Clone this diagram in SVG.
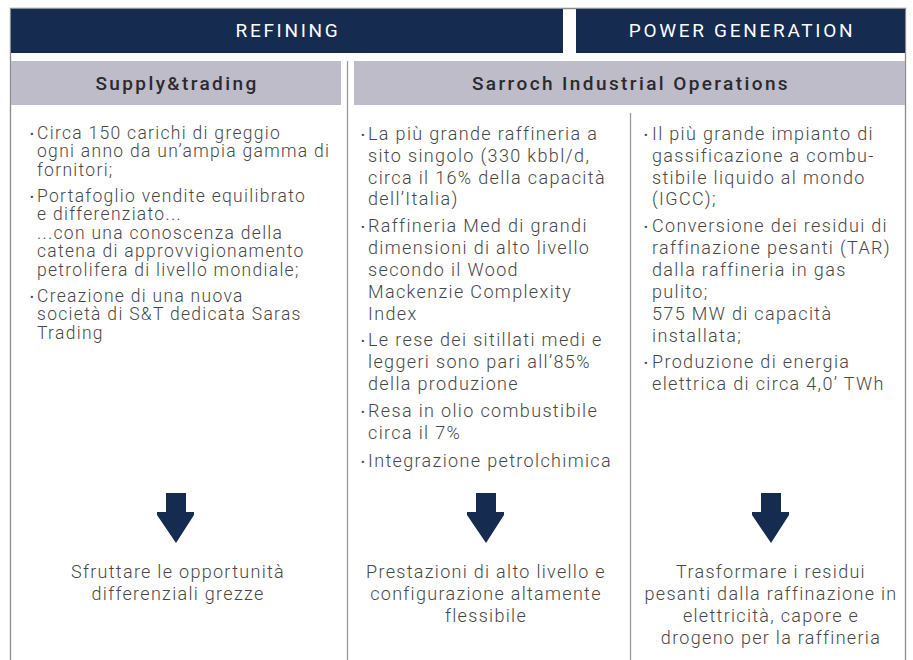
<svg xmlns="http://www.w3.org/2000/svg" width="913" height="660" viewBox="0 0 913 660">
<style>
.navy{fill:#152b50}
.band{fill:#bdbcc8}
.frame{stroke:#8c8c8c;stroke-width:1.3;fill:none}
.div{stroke:#9a9a9a;stroke-width:1.3;fill:none}
.h1{font-family:Roboto,"Liberation Sans",sans-serif;font-size:19px;font-weight:400;fill:#ffffff;letter-spacing:2.7px;text-anchor:middle}
.h2{font-family:Roboto,"Liberation Sans",sans-serif;font-size:19px;font-weight:500;fill:#2a2a2e;letter-spacing:2.4px;text-anchor:middle}
.b{font-family:Roboto,"Liberation Sans",sans-serif;font-size:17.5px;font-weight:300;fill:#474747;letter-spacing:1.3px}
.b2{font-family:Roboto,"Liberation Sans",sans-serif;font-size:18px;font-weight:300;fill:#474747;letter-spacing:1.35px}
.bul{font-family:Roboto,"Liberation Sans",sans-serif;font-size:11px;fill:#474747}
.c{font-family:Roboto,"Liberation Sans",sans-serif;font-size:18px;font-weight:300;fill:#474747;letter-spacing:1.3px;text-anchor:middle}
.arrow{fill:#152b50}
</style>
<rect width="913" height="660" fill="#ffffff"/>
<g id="frame">
<path class="frame" d="M10.5,660 V8.5 H905.5 V660"/>
</g>
<g id="header-refining">
<rect class="navy" x="11" y="9" width="552" height="44"/>
<text class="h1" x="288" y="37">REFINING</text>
</g>
<g id="header-power">
<rect class="navy" x="576" y="9" width="329" height="44"/>
<text class="h1" x="742" y="37">POWER GENERATION</text>
</g>
<g id="sub-supply">
<rect class="band" x="11" y="61" width="330" height="44"/>
<text class="h2" x="177" y="90">Supply&amp;trading</text>
</g>
<g id="sub-sarroch">
<rect class="band" x="354" y="61" width="551" height="44"/>
<text class="h2" x="631" y="90">Sarroch Industrial Operations</text>
</g>
<g id="connectors">
<path class="div" d="M347.5,61 V660"/>
<path class="div" d="M630.5,113 V660"/>
</g>
<g id="col-supply">
<text class="bul" x="30" y="138">•</text>
<text class="bul" x="30" y="201">•</text>
<text class="bul" x="30" y="301">•</text>
<text class="b" x="37" y="139">Circa 150 carichi di greggio</text>
<text class="b" x="37" y="157.4">ogni anno da un’ampia gamma di</text>
<text class="b" x="37" y="175.8">fornitori;</text>
<text class="b" x="37" y="202">Portafoglio vendite equilibrato</text>
<text class="b" x="37" y="220.4">e differenziato...</text>
<text class="b" x="37" y="238.8">...con una conoscenza della</text>
<text class="b" x="37" y="257.2">catena di approvvigionamento</text>
<text class="b" x="37" y="275.6">petrolifera di livello mondiale;</text>
<text class="b" x="37" y="302">Creazione di una nuova</text>
<text class="b" x="37" y="320.4">società di S&amp;T dedicata Saras</text>
<text class="b" x="37" y="338.8">Trading</text>
<path class="arrow" d="M166,493 H186 V512 H194 V515 L176,543 L157,515 V512 H166 Z"/>
<text class="c" x="178" y="577.5">Sfruttare le opportunità</text>
<text class="c" x="178" y="599.5">differenziali grezze</text>
</g>
<g id="col-sarroch">
<text class="bul" x="361" y="138.5">•</text>
<text class="bul" x="361" y="230.5">•</text>
<text class="bul" x="361" y="345">•</text>
<text class="bul" x="361" y="415.5">•</text>
<text class="bul" x="361" y="465.5">•</text>
<text class="b2" x="368" y="139.5">La più grande raffineria a</text>
<text class="b2" x="368" y="161.5">sito singolo (330 kbbl/d,</text>
<text class="b2" x="368" y="183.5">circa il 16% della capacità</text>
<text class="b2" x="368" y="205">dell’Italia)</text>
<text class="b2" x="368" y="231.5">Raffineria Med di grandi</text>
<text class="b2" x="368" y="253.5">dimensioni di alto livello</text>
<text class="b2" x="368" y="275.5">secondo il Wood</text>
<text class="b2" x="368" y="297.5">Mackenzie Complexity</text>
<text class="b2" x="368" y="319.5">Index</text>
<text class="b2" x="368" y="346">Le rese dei sitillati medi e</text>
<text class="b2" x="368" y="368">leggeri sono pari all’85%</text>
<text class="b2" x="368" y="390">della produzione</text>
<text class="b2" x="368" y="416.5">Resa in olio combustibile</text>
<text class="b2" x="368" y="438.5">circa il 7%</text>
<text class="b2" x="368" y="466.5">Integrazione petrolchimica</text>
<path class="arrow" d="M476,493 H496 V512 H504 V515 L486,543 L467,515 V512 H476 Z"/>
<text class="c" x="486" y="577.5">Prestazioni di alto livello e</text>
<text class="c" x="486" y="599.5">configurazione altamente</text>
<text class="c" x="486" y="621.5">flessibile</text>
</g>
<g id="col-power">
<text class="bul" x="644" y="138.5">•</text>
<text class="bul" x="644" y="230.5">•</text>
<text class="bul" x="644" y="367">•</text>
<text class="b2" x="652" y="139.5">Il più grande impianto di</text>
<text class="b2" x="652" y="161.5">gassificazione a combu-</text>
<text class="b2" x="652" y="183.5">stibile liquido al mondo</text>
<text class="b2" x="652" y="205">(IGCC);</text>
<text class="b2" x="652" y="231.5">Conversione dei residui di</text>
<text class="b2" x="652" y="253.5">raffinazione pesanti (TAR)</text>
<text class="b2" x="652" y="275.5">dalla raffineria in gas</text>
<text class="b2" x="652" y="297.5">pulito;</text>
<text class="b2" x="652" y="319.5">575 MW di capacità</text>
<text class="b2" x="652" y="341.5">installata;</text>
<text class="b2" x="652" y="368">Produzione di energia</text>
<text class="b2" x="652" y="390">elettrica di circa 4,0’ TWh</text>
<path class="arrow" d="M761,493 H781 V512 H789 V515 L771,543 L752,515 V512 H761 Z"/>
<text class="c" x="771" y="577.5">Trasformare i residui</text>
<text class="c" x="771" y="599.5">pesanti dalla raffinazione in</text>
<text class="c" x="771" y="621.5">elettricità, capore e</text>
<text class="c" x="771" y="643.5">drogeno per la raffineria</text>
</g>
</svg>
